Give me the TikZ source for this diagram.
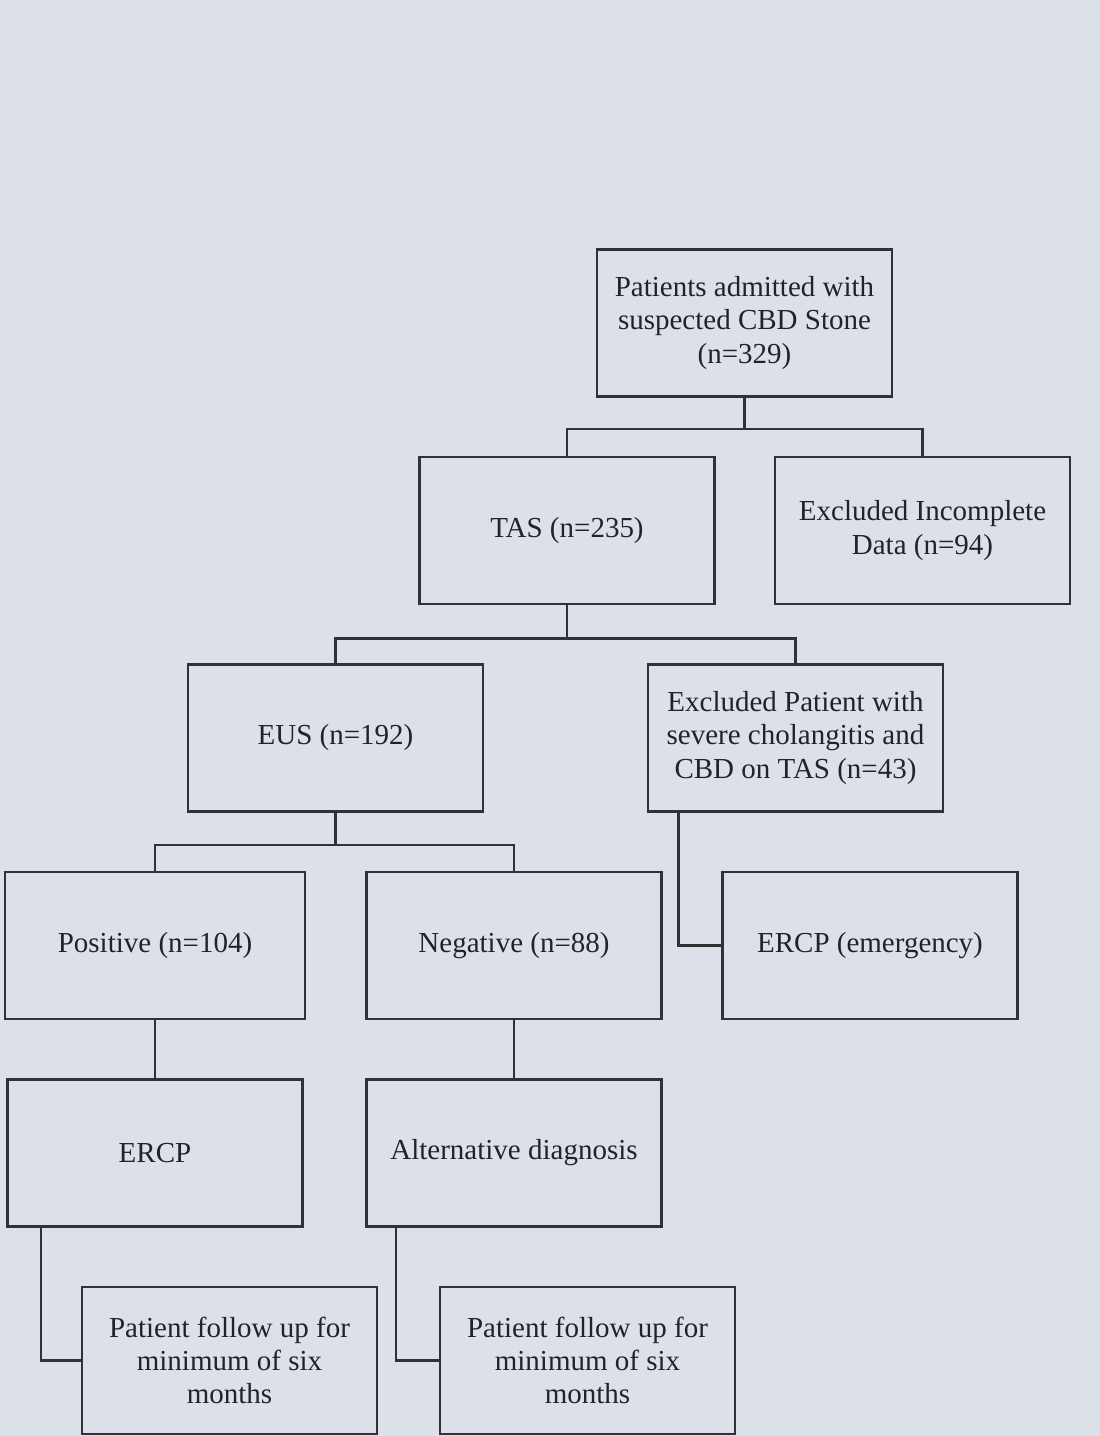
\documentclass[tikz,border=0pt]{standalone}
\usepackage{fontspec}
\setmainfont{Liberation Serif}
\usepackage{xcolor}
\usetikzlibrary{positioning, calc}
\definecolor{scanbg}{RGB}{220,225,233}
\definecolor{inkgray}{RGB}{50,50,53}
\definecolor{textgray}{RGB}{35,35,38}

\begin{document}
\begin{tikzpicture}[node distance=4.15cm]
    \tikzstyle{flowbox} = [rectangle, minimum width=5.9cm, minimum height=2.94cm, align=center, draw=inkgray, line width=1.6pt, text=textgray, font=\fontsize{16.5}{19}\selectfont, inner sep=2pt]
    \tikzstyle{link} = [draw=inkgray, line width=1.5pt]

    \fill[scanbg] (0,0) rectangle (22,-28.72);
    \useasboundingbox (0,0) rectangle (22,-28.72);

    \node (start) [flowbox] at (14.89,-6.46) {Patients admitted with\\suspected CBD Stone\\(n=329)};
    \node (tas) [flowbox, below of=start, xshift=-3.55cm] {TAS (n=235)};
    \node (excl1) [flowbox, right of=tas, xshift=2.96cm] {Excluded Incomplete\\Data (n=94)};
    \node (eus) [flowbox, below of=tas, xshift=-4.63cm] {EUS (n=192)};
    \node (excl2) [flowbox, right of=eus, xshift=5.05cm] {Excluded Patient with\\severe cholangitis and\\CBD on TAS (n=43)};
    \node (pos) [flowbox, below of=eus, xshift=-3.61cm, minimum width=6cm] {Positive (n=104)};
    \node (neg) [flowbox, right of=pos, xshift=3.03cm] {Negative (n=88)};
    \node (ercpem) [flowbox, right of=neg, xshift=2.97cm] {ERCP (emergency)};
    \node (ercp) [flowbox, below of=pos] {ERCP};
    \node (alt) [flowbox, below of=neg] {Alternative diagnosis};
    \node (fu1) [flowbox, below of=ercp, xshift=1.49cm] {Patient follow up for\\minimum of six\\months};
    \node (fu2) [flowbox, below of=alt, xshift=1.47cm] {Patient follow up for\\minimum of six\\months};

    % first split
    \draw [link] (start.south) -- ++(0,-0.62) coordinate (j1);
    \draw [link] (tas.north) |- (j1) -| (excl1.north);
    % second split
    \draw [link] (tas.south) -- ++(0,-0.66) coordinate (j2);
    \draw [link] (eus.north) |- (j2) -| (excl2.north);
    % third split
    \draw [link] (eus.south) -- ++(0,-0.64) coordinate (j3);
    \draw [link] (pos.north) |- (j3) -| (neg.north);

    \draw [link] ([xshift=0.64cm]excl2.south west) |- (ercpem.west);
    \draw [link] (pos.south) -- (ercp.north);
    \draw [link] (neg.south) -- (alt.north);
    \draw [link] ([xshift=0.7cm]ercp.south west) |- (fu1.west);
    \draw [link] ([xshift=0.62cm]alt.south west) |- (fu2.west);
\end{tikzpicture}
\end{document}
